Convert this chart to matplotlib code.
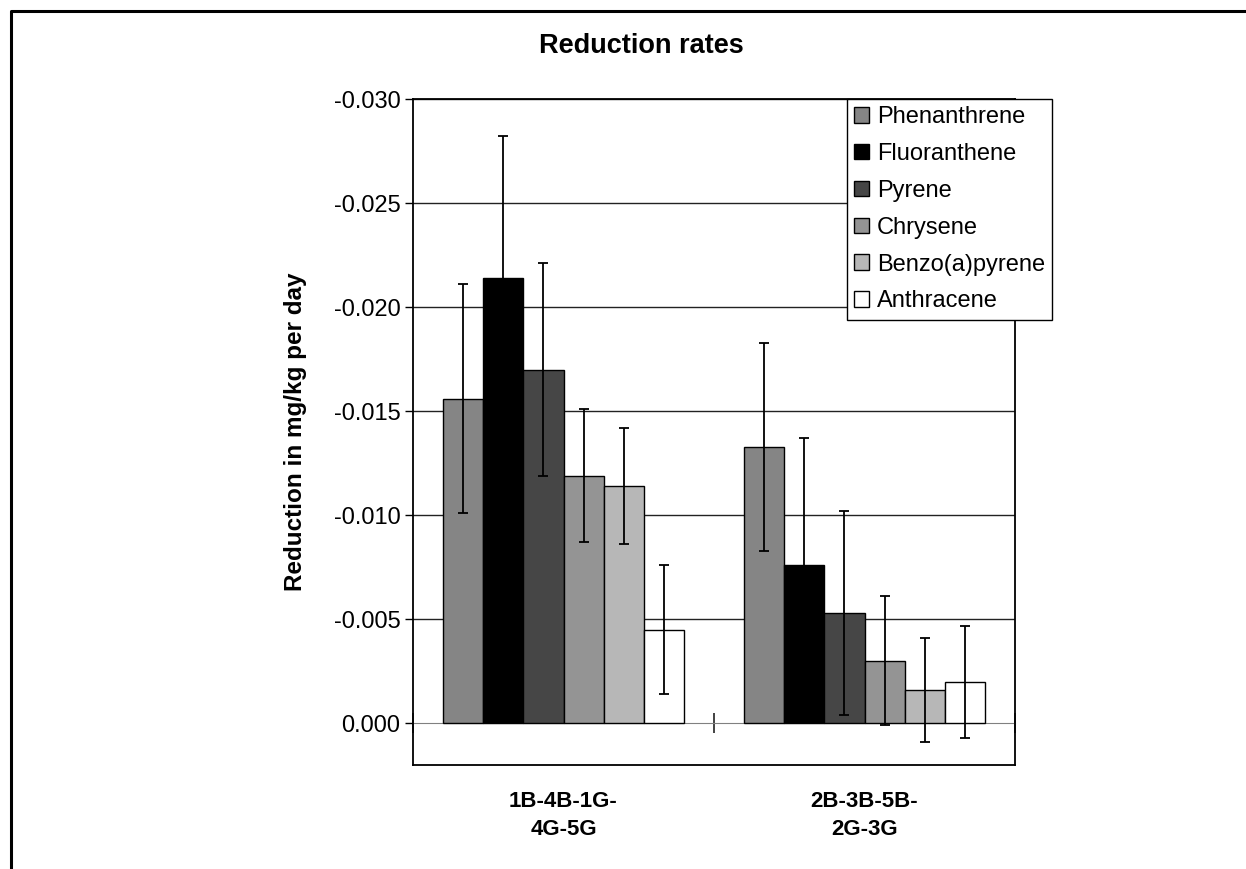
import numpy as np
import matplotlib
matplotlib.use("Agg")
import matplotlib.pyplot as plt
from matplotlib.lines import Line2D

plt.rcParams['font.family'] = ['Liberation Sans', 'DejaVu Sans']

# data
categories = ["1B-4B-1G-\n4G-5G", "2B-3B-5B-\n2G-3G"]
series = ["Phenanthrene", "Fluoranthene", "Pyrene", "Chrysene",
          "Benzo(a)pyrene", "Anthracene"]
phenanthrene = [-0.0156, -0.0133]
fluoranthene = [-0.0214, -0.0076]
pyrene = [-0.0170, -0.0053]
chrysene = [-0.0119, -0.0030]
benzo_a_pyrene = [-0.0114, -0.0016]
anthracene = [-0.0045, -0.0020]
phenanthrene_err = [0.0055, 0.0050]
fluoranthene_err = [0.0068, 0.0061]
pyrene_err = [0.0051, 0.0049]
chrysene_err = [0.0032, 0.0031]
benzo_a_pyrene_err = [0.0028, 0.0025]
anthracene_err = [0.0031, 0.0027]
ytick_values = [0.0, -0.005, -0.010, -0.015, -0.020, -0.025, -0.030]
ytick_labels = ["0.000", "-0.005", "-0.010", "-0.015", "-0.020", "-0.025", "-0.030"]

values = [phenanthrene, fluoranthene, pyrene, chrysene, benzo_a_pyrene, anthracene]
errors = [phenanthrene_err, fluoranthene_err, pyrene_err, chrysene_err,
          benzo_a_pyrene_err, anthracene_err]
colors = ["#858585", "#000000", "#464646", "#949494", "#b7b7b7", "#ffffff"]

W, H = 1246, 869
fig = plt.figure(figsize=(W / 100, H / 100), dpi=100)
ax = fig.add_axes([413 / W, (H - 765) / H, 602 / W, 666 / H])

x = np.arange(len(categories))
n = len(series)
width = 0.8 / n
for i in range(n):
    ax.bar(x + (i - (n - 1) / 2) * width, values[i], width, yerr=errors[i],
           color=colors[i], edgecolor="black", linewidth=1.0, label=series[i],
           error_kw=dict(ecolor="black", elinewidth=1.3, capsize=3.9, capthick=1.3),
           zorder=2)

ymin, ymax = 0.002, -0.030
ax.set_ylim(ymin, ymax)
ax.set_xlim(-0.5, len(categories) - 0.5)

ax.set_yticks(ytick_values)
ax.set_yticklabels(ytick_labels, fontsize=17)
ax.tick_params(axis="y", direction="out", length=6, width=1, pad=3)
ax.yaxis.grid(True, color="#222222", linewidth=1.0)
ax.set_axisbelow(True)
ax.get_ygridlines()[0].set_visible(False)

ax.set_xticks(x)
ax.set_xticklabels(categories, fontsize=16, fontweight="bold", linespacing=1.45)
ax.tick_params(axis="x", length=0, pad=18.5)

for s in ax.spines.values():
    s.set_color("black")
    s.set_linewidth(1.3)

# category axis crossing at zero
zero_frac = (0 - ymin) / (ymax - ymin)
sec = ax.secondary_xaxis(zero_frac)
sec.spines["bottom"].set_color("#808080")
sec.spines["top"].set_color("#808080")
sec.set_xticks(np.arange(len(categories) + 1) - 0.5)
sec.set_xticklabels([])
sec.tick_params(direction="inout", length=15, width=1.2, color="#222222")

ax.set_ylabel("Reduction in mg/kg per day", fontsize=17.5, fontweight="bold")
ax.yaxis.set_label_coords(-0.176, 0.5)

fig.text(641 / W, 1 - 46 / H, "Reduction rates", ha="center", va="center",
         fontsize=19.5, fontweight="bold")

leg = ax.legend(loc="upper left", bbox_to_anchor=(847 / W, 1 - 99 / H),
                bbox_transform=fig.transFigure, fontsize=17, frameon=True,
                fancybox=False, framealpha=1, edgecolor="black",
                borderaxespad=0, borderpad=0.3, handlelength=0.64,
                handleheight=0.64, handletextpad=0.33, labelspacing=0.63)
leg.get_frame().set_linewidth(1.0)
leg.set_zorder(5)

# outer chart frame (left and top only visible)
fig.add_artist(Line2D([10.5 / W, 10.5 / W, 1], [0, 1 - 10.5 / H, 1 - 10.5 / H],
                      color="black", linewidth=2.2, transform=fig.transFigure))

fig.savefig("out.png", dpi=100)
